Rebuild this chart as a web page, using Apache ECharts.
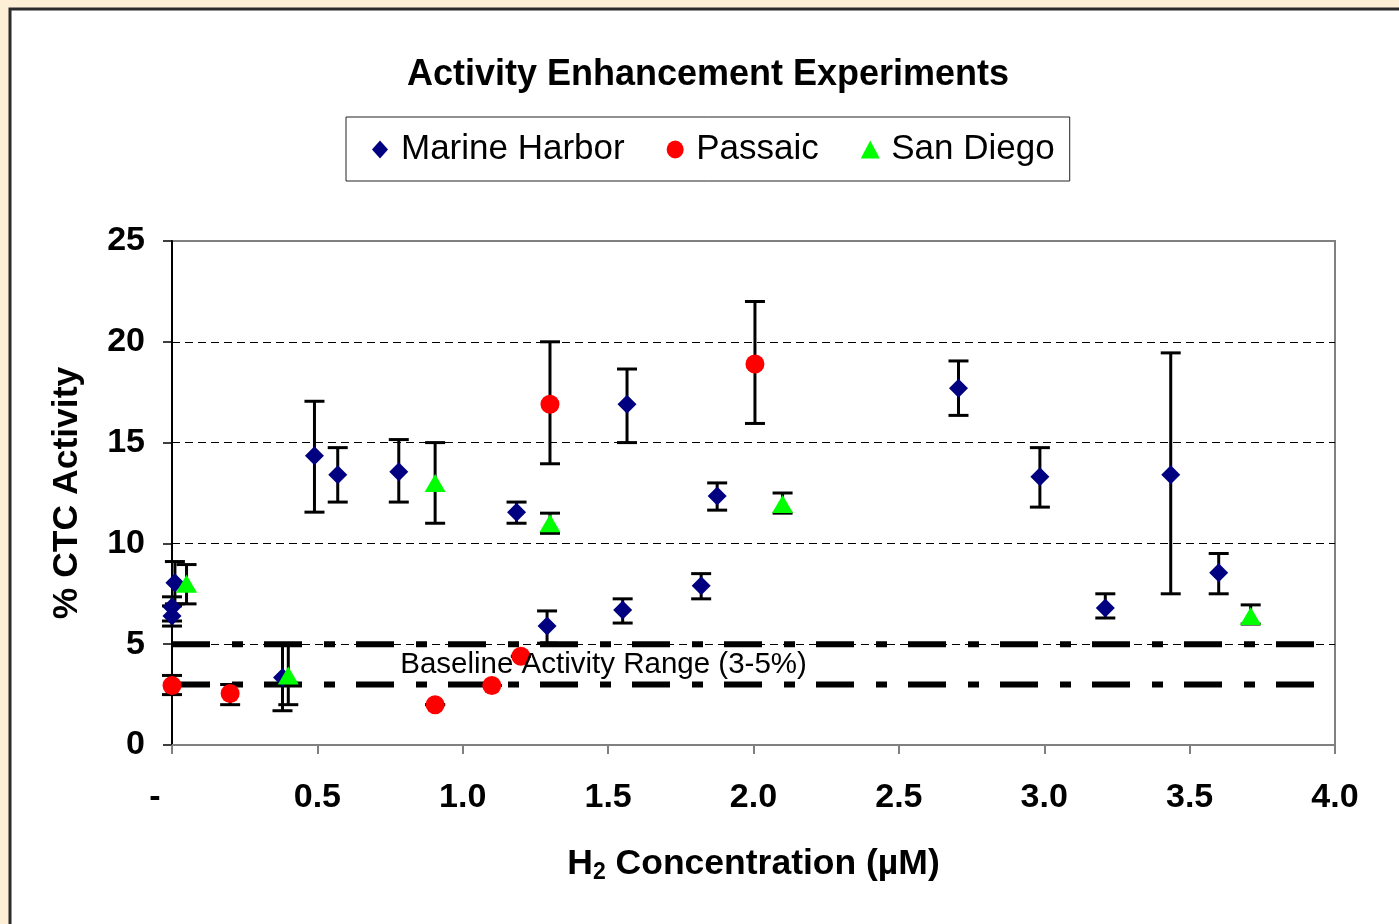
<!DOCTYPE html>
<html>
<head>
<meta charset="utf-8">
<script src="https://cdn.jsdelivr.net/npm/echarts@6/dist/echarts.min.js"></script>
<style>
  html, body { margin: 0; padding: 0; background: #fcefd6; }
  #chart { width: 1399px; height: 924px; }
</style>
</head>
<body>
<div id="chart"></div>
<script>
// Marine Harbor: H2 concentration, mean activity, error-bar low / high
const mhX    = [0.00, 0.00, 0.01, 0.38, 0.49, 0.57, 0.78, 1.185, 1.29, 1.55, 1.565, 1.82, 1.875, 2.705, 2.985, 3.21, 3.435, 3.60];
const mhY    = [6.40, 6.85, 8.05, 3.35, 14.35, 13.40, 13.55, 11.55, 5.90, 6.70, 16.90, 7.90, 12.35, 17.70, 13.30, 6.80, 13.40, 8.55];
const mhLow  = [5.90, 6.15, 7.00, 1.70, 11.55, 12.05, 12.05, 11.00, 5.05, 6.05, 15.00, 7.25, 11.65, 16.35, 11.80, 6.30, 7.50, 7.50];
const mhHigh = [6.90, 7.35, 9.10, 5.00, 17.05, 14.75, 15.15, 12.05, 6.65, 7.25, 18.65, 8.50, 13.00, 19.05, 14.75, 7.50, 19.45, 9.50];

// Passaic
const paX    = [0.00, 0.20, 0.905, 1.10, 1.20, 1.30, 2.005];
const paY    = [2.95, 2.55, 2.00, 2.95, 4.40, 16.90, 18.90];
const paLow  = [2.50, 2.00, 2.00, 2.95, 4.40, 13.95, 15.95];
const paHigh = [3.45, 3.00, 2.00, 2.95, 4.40, 20.00, 22.00];

// San Diego
const sdX    = [0.05, 0.40, 0.905, 1.30, 2.10, 3.71];
const sdY    = [8.00, 3.45, 13.00, 11.00, 11.95, 6.40];
const sdLow  = [7.00, 2.00, 11.00, 10.50, 11.50, 6.00];
const sdHigh = [8.95, 4.95, 15.00, 11.50, 12.50, 6.95];

// Baseline activity band and its caption
const baselineLevels = [3, 5];
const baselineSpan = [0, 4];
const baselineCaption = 'Baseline Activity Range (3-5%)';
const baselineCaptionAt = [0.785, 4.0];

// Axis ticks
const xTicks = [0, 0.5, 1.0, 1.5, 2.0, 2.5, 3.0, 3.5, 4.0];
const yTicks = [0, 5, 10, 15, 20, 25];

const FONT = 'Liberation Sans, Arial, sans-serif';

const pts = (xs, ys) => xs.map((x, i) => [x, ys[i]]);
const bars = (xs, lo, hi) => xs.map((x, i) => [x, lo[i], hi[i]]);

const errorData = []
  .concat(bars(mhX, mhLow, mhHigh))
  .concat(bars(paX, paLow, paHigh))
  .concat(bars(sdX, sdLow, sdHigh));

function renderErrorBar(params, api) {
  const x = api.value(0);
  const pLo = api.coord([x, api.value(1)]);
  const pHi = api.coord([x, api.value(2)]);
  const hw = 10;
  const cap = { stroke: '#000', lineWidth: 3 };
  return {
    type: 'group',
    children: [
      { type: 'line', shape: { x1: pLo[0], y1: pLo[1], x2: pHi[0], y2: pHi[1] }, style: { stroke: '#000', lineWidth: 3 } },
      { type: 'line', shape: { x1: pLo[0] - hw, y1: pLo[1], x2: pLo[0] + hw, y2: pLo[1] }, style: cap },
      { type: 'line', shape: { x1: pHi[0] - hw, y1: pHi[1], x2: pHi[0] + hw, y2: pHi[1] }, style: cap }
    ]
  };
}

const baselineSeries = baselineLevels.map(v => ({
  type: 'line',
  silent: true,
  z: 2,
  symbol: 'none',
  data: baselineSpan.map(x => [x, v]),
  lineStyle: { color: '#000', width: 6, type: [38, 22, 11, 21], cap: 'butt' },
  tooltip: { show: false }
}));

// Legend glyphs
const ICON_DIAMOND = 'path://M8,0L16,9L8,18L0,9Z';
const ICON_CIRCLE = 'path://M0,9A8.5,9 0 1,0 17,9A8.5,9 0 1,0 0,9Z';
const ICON_TRIANGLE = 'path://M9,0L18,17L0,17Z';

const chart = echarts.init(document.getElementById('chart'));

chart.setOption({
  animation: false,
  backgroundColor: 'transparent',
  textStyle: { fontFamily: FONT },
  graphic: [{
    type: 'rect',
    z: -100,
    silent: true,
    shape: { x: 10, y: 9, width: 1400, height: 930 },
    style: { fill: '#ffffff', stroke: '#2b2b2b', lineWidth: 3 }
  }],
  title: {
    text: 'Activity Enhancement Experiments',
    left: 703,
    textAlign: 'center',
    top: 52,
    textStyle: { fontFamily: FONT, fontSize: 36, fontWeight: 'bold', color: '#000' }
  },
  legend: {
    left: 346,
    top: 117,
    orient: 'horizontal',
    padding: [15, 15, 14, 26],
    itemGap: 42,
    itemWidth: 32,
    itemHeight: 18,
    symbolKeepAspect: true,
    borderColor: '#222',
    borderWidth: 1,
    backgroundColor: '#fff',
    textStyle: { fontFamily: FONT, fontSize: 35, color: '#000' },
    data: [
      { name: 'Marine Harbor', icon: ICON_DIAMOND },
      { name: 'Passaic', icon: ICON_CIRCLE },
      { name: 'San Diego', icon: ICON_TRIANGLE }
    ]
  },
  grid: {
    left: 172, right: 64, top: 241, bottom: 179,
    show: true, borderColor: '#808080', borderWidth: 2, backgroundColor: 'transparent'
  },
  xAxis: {
    type: 'value',
    min: xTicks[0],
    max: xTicks[xTicks.length - 1],
    interval: 0.5,
    name: '{b|H}{s|2}{b| Concentration (µM)}',
    nameLocation: 'middle',
    nameGap: 100,
    nameTextStyle: {
      rich: {
        b: { fontFamily: FONT, fontSize: 35.5, fontWeight: 'bold', color: '#000' },
        s: { fontFamily: FONT, fontSize: 23, fontWeight: 'bold', color: '#000', padding: [16, 0, 0, 0] }
      }
    },
    axisLine: { show: true, lineStyle: { color: '#808080', width: 2 } },
    axisTick: { show: true, length: 9, lineStyle: { color: '#808080', width: 2 } },
    splitLine: { show: false },
    axisLabel: {
      margin: 36,
      formatter: v => v === 0 ? '{d|-}' : '{n|' + v.toFixed(1) + '}',
      rich: {
        n: { fontFamily: FONT, fontSize: 34, fontWeight: 'bold', color: '#000' },
        d: { fontFamily: FONT, fontSize: 34, fontWeight: 'bold', color: '#000', padding: [0, 34, 0, 0] }
      }
    }
  },
  yAxis: {
    type: 'value',
    min: yTicks[0],
    max: yTicks[yTicks.length - 1],
    interval: 5,
    name: '% CTC Activity',
    nameLocation: 'middle',
    nameGap: 87,
    nameRotate: 90,
    nameTextStyle: { fontFamily: FONT, fontSize: 35.5, fontWeight: 'bold', color: '#000' },
    axisLine: { show: true, lineStyle: { color: '#000', width: 2 } },
    axisTick: { show: true, length: 9, lineStyle: { color: '#000', width: 1.5 } },
    axisLabel: { margin: 27, fontFamily: FONT, fontSize: 34, fontWeight: 'bold', color: '#000' },
    splitLine: {
      show: true,
      lineStyle: {
        color: ['transparent', '#000', '#000', '#000', '#000', 'transparent'],
        width: 1,
        type: [8, 5]
      }
    }
  },
  series: [
    {
      name: 'error bars',
      type: 'custom',
      z: 2,
      silent: true,
      renderItem: renderErrorBar,
      encode: { x: 0, y: [1, 2] },
      data: errorData
    },
    ...baselineSeries,
    {
      name: 'Marine Harbor',
      type: 'scatter',
      z: 3,
      symbol: 'diamond',
      symbolSize: 19,
      itemStyle: { color: '#000080', opacity: 1 },
      data: pts(mhX, mhY)
    },
    {
      name: 'Passaic',
      type: 'scatter',
      z: 3,
      symbol: 'circle',
      symbolSize: 19,
      itemStyle: { color: '#ff0000', opacity: 1 },
      data: pts(paX, paY)
    },
    {
      name: 'San Diego',
      type: 'scatter',
      z: 3,
      symbol: 'triangle',
      symbolSize: [21, 18],
      itemStyle: { color: '#00ff00', opacity: 1 },
      data: pts(sdX, sdY)
    },
    {
      name: 'baseline caption',
      type: 'custom',
      z: 5,
      silent: true,
      renderItem: (params, api) => {
        const p = api.coord([api.value(0), api.value(1)]);
        return {
          type: 'text',
          x: p[0], y: p[1],
          style: {
            text: baselineCaption,
            fontFamily: FONT, fontSize: 29.5, fill: '#000',
            align: 'left', verticalAlign: 'middle'
          }
        };
      },
      data: [baselineCaptionAt]
    }
  ]
});
</script>
</body>
</html>
